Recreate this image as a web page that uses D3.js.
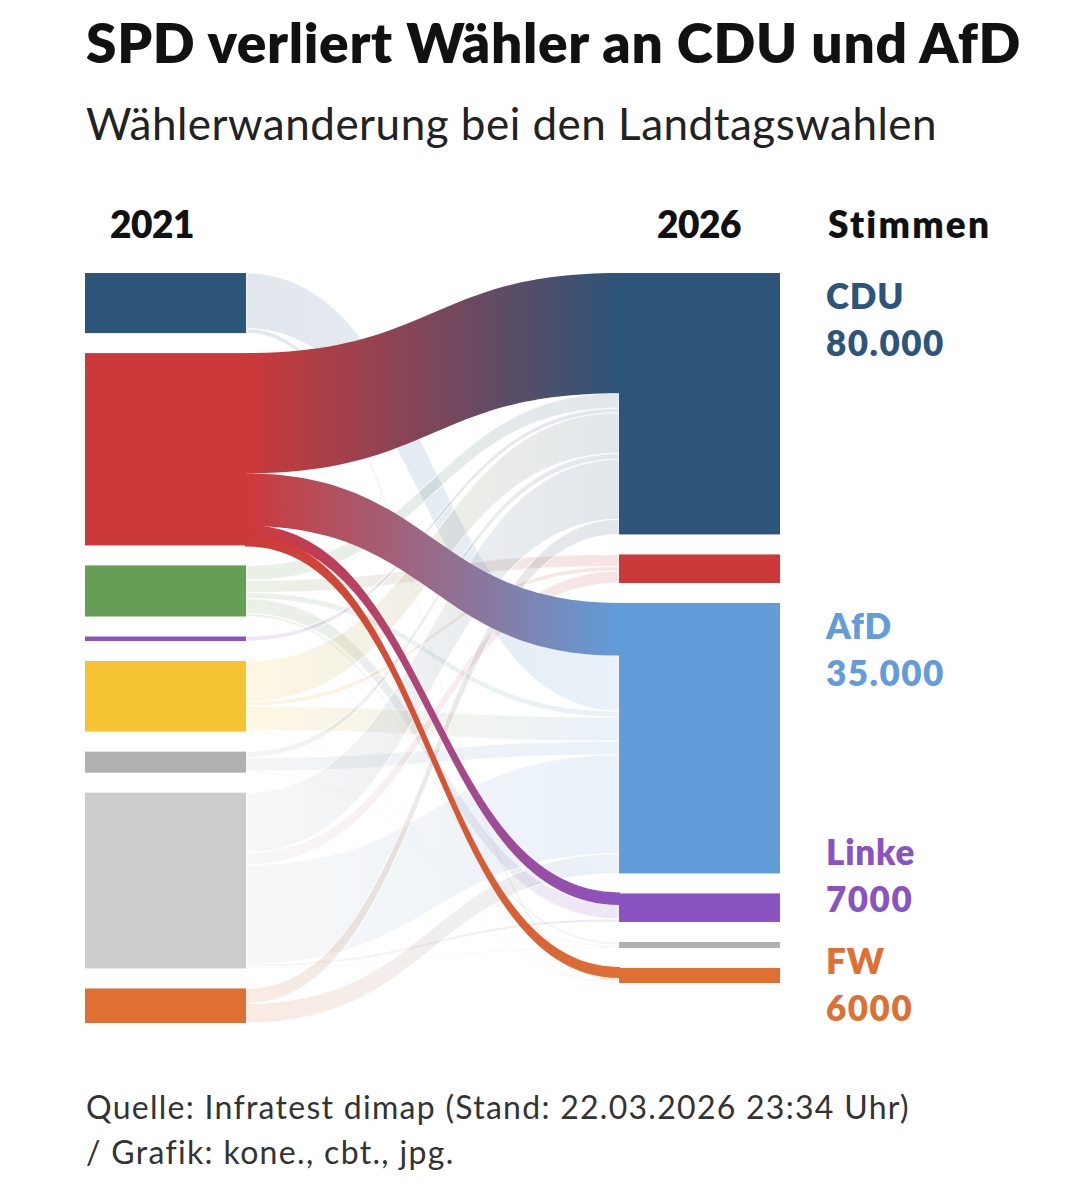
<!DOCTYPE html>
<html lang="de">
<head>
<meta charset="UTF-8">
<title>SPD verliert Wähler an CDU und AfD</title>
<script src="https://d3js.org/d3.v7.min.js"></script>
<style>
  body { margin: 0; background: #fff; }
  svg { display: block; font-family: Lato, "Noto Sans", sans-serif; }
</style>
</head>
<body>
<svg id="chart" width="1092" height="1200"></svg>
<script>
// Parteien 2021 (links) und 2026 (rechts)
const sources = ["CDU", "SPD", "Grüne", "Linke", "FDP", "Sonstige", "Nichtwähler", "FW"];
const targets = ["CDU", "SPD", "AfD", "Linke", "Sonstige", "FW"];

const colors = {
    "CDU": "#2d5479", "SPD": "#cc393a", "Grüne": "#679e55", "Linke": "#8a53c1",
    "FDP": "#f5c334", "Sonstige": "#b1b1b1", "Nichtwähler": "#cccccc",
    "FW": "#de7034", "AfD": "#629cd9"
};

// Wanderungen in Tausend Stimmen (aus der Grafik geschätzt)
const flows = [
    ["SPD", "CDU", 80], ["SPD", "AfD", 35], ["SPD", "Linke", 7], ["SPD", "FW", 6],
    ["CDU", "AfD", 37], ["CDU", "FW", 3],
    ["Grüne", "CDU", 10], ["Grüne", "SPD", 8], ["Grüne", "AfD", 4], ["Grüne", "Linke", 10], ["Grüne", "Sonstige", 2],
    ["Linke", "CDU", 3],
    ["FDP", "CDU", 27], ["FDP", "SPD", 3], ["FDP", "AfD", 16], ["FDP", "FW", 1],
    ["Sonstige", "CDU", 4], ["Sonstige", "AfD", 9], ["Sonstige", "Sonstige", 1],
    ["Nichtwähler", "CDU", 40], ["Nichtwähler", "SPD", 8], ["Nichtwähler", "AfD", 66],
    ["Nichtwähler", "Linke", 2], ["Nichtwähler", "Sonstige", 1],
    ["FW", "CDU", 10], ["FW", "AfD", 13]
];

// SPD-Verluste, rechts beschriftet
const labelParties = ["CDU", "AfD", "Linke", "FW"];
const labelValues = [80000, 35000, 7000, 6000];

const svg = d3.select("#chart");
const chartTop = 273, gap = 20, nodeW = 161;
const leftX = 85, rightX = 619;
const focus = "SPD";

const links = flows.map(([s, t, v]) => ({ source: s, target: t, value: v }));

const leftNodes = sources.map((name, i) => ({ name, i, side: "L",
    value: d3.sum(links.filter(l => l.source === name), l => l.value) }));
const rightNodes = targets.map((name, i) => ({ name, i, side: "R",
    value: d3.sum(links.filter(l => l.target === name), l => l.value) }));

const total = d3.sum(rightNodes, d => d.value);
const y = d3.scaleLinear().domain([0, total]).range([0, 710 - gap * (rightNodes.length - 1)]);

function stack(nodes) {
    let pos = chartTop;
    nodes.forEach(n => { n.y0 = pos; n.y1 = pos + y(n.value); pos = n.y1 + gap; });
}
stack(leftNodes);
stack(rightNodes);

const R = new Map(rightNodes.map(n => [n.name, n]));

// Position der Bänder an den Knoten
leftNodes.forEach(n => {
    let p = n.y0;
    links.filter(l => l.source === n.name)
        .sort((a, b) => targets.indexOf(a.target) - targets.indexOf(b.target))
        .forEach(l => { l.sy0 = p; p += y(l.value); l.sy1 = p; });
});
rightNodes.forEach(n => {
    let p = n.y0;
    const key = l => l.source === focus ? -1 : sources.indexOf(l.source);
    links.filter(l => l.target === n.name)
        .sort((a, b) => key(a) - key(b))
        .forEach(l => { l.ty0 = p; p += y(l.value); l.ty1 = p; });
});

const x0 = leftX + nodeW, x1 = rightX, xm = (x0 + x1) / 2;
function band(l) {
    const p = d3.path();
    p.moveTo(x0, l.sy0);
    p.bezierCurveTo(xm, l.sy0, xm, l.ty0, x1, l.ty0);
    p.lineTo(x1, l.ty1);
    p.bezierCurveTo(xm, l.ty1, xm, l.sy1, x0, l.sy1);
    p.closePath();
    return p.toString();
}

// Verläufe
const defs = svg.append("defs");
links.forEach((l, i) => {
    l.id = "grad" + i;
    const g = defs.append("linearGradient")
        .attr("id", l.id)
        .attr("gradientUnits", "userSpaceOnUse")
        .attr("x1", x0).attr("x2", x1).attr("y1", 0).attr("y2", 0);
    g.append("stop").attr("offset", "0%").attr("stop-color", colors[l.source]);
    g.append("stop").attr("offset", "100%").attr("stop-color", colors[l.target]);
});

const faint = links.filter(l => l.source !== focus);
const strong = links.filter(l => l.source === focus);

svg.append("g")
    .selectAll("path")
    .data(faint)
    .join("path")
    .attr("d", band)
    .attr("fill", l => `url(#${l.id})`)
    .attr("fill-opacity", 0.14)
    .attr("stroke", "#fff")
    .attr("stroke-opacity", 0.7)
    .attr("stroke-width", 1.2);

// thin SPD bands get a small extra stroke so the steep part keeps its weight
svg.append("g")
    .selectAll("path")
    .data(strong)
    .join("path")
    .attr("d", band)
    .attr("fill", l => `url(#${l.id})`)
    .attr("stroke", l => l.value < 20 ? `url(#${l.id})` : "none")
    .attr("stroke-width", 2);

// Knoten
svg.append("g")
    .selectAll("rect")
    .data(leftNodes.concat(rightNodes))
    .join("rect")
    .attr("x", d => d.side === "L" ? leftX : rightX)
    .attr("y", d => d.y0)
    .attr("width", nodeW)
    .attr("height", d => Math.max(1, d.y1 - d.y0))
    .attr("fill", d => colors[d.name]);

// Texte, Breite an die Vorlage angepasst
function fit(sel, w) {
    const len = sel.node().getComputedTextLength();
    const n = sel.text().length;
    sel.attr("letter-spacing", ((w - len) / n).toFixed(2));
    return sel;
}
function text(x, yy, str, size, weight, color) {
    return svg.append("text")
        .attr("x", x).attr("y", yy)
        .attr("font-size", size)
        .attr("font-weight", weight)
        .attr("fill", color)
        .text(str);
}

fit(text(86, 63, "SPD verliert Wähler an CDU und AfD", 55, 800, "#111"), 935);
fit(text(86, 140, "Wählerwanderung bei den Landtagswahlen", 44, 400, "#222"), 851);

fit(text(110, 238, "2021", 37, 800, "#111"), 84);
fit(text(657, 238, "2026", 37, 800, "#111"), 84);
fit(text(828, 238, "Stimmen", 37, 800, "#111"), 164);

// Beschriftung rechts, Überlappungen von unten nach oben auflösen
const fmt = v => v >= 10000 ? d3.format(",")(v).replace(/,/g, ".") : String(v);
const lineH = 47, blockH = 109, bottom = 1021;
const blocks = labelParties.map((p, i) => ({ p, v: labelValues[i], b: R.get(p).y0 + 36 }));
for (let i = blocks.length - 1; i >= 0; i--) {
    const limit = i === blocks.length - 1 ? bottom - lineH : blocks[i + 1].b - blockH;
    blocks[i].b = Math.min(blocks[i].b, limit);
}
blocks.forEach(d => {
    text(826, d.b, d.p, 35, 800, colors[d.p]).attr("letter-spacing", 0.8);
    text(826, d.b + lineH, fmt(d.v), 35, 800, colors[d.p]).attr("letter-spacing", 1.5);
});

fit(text(86, 1119, "Quelle: Infratest dimap (Stand: 22.03.2026 23:34 Uhr)", 32, 400, "#333"), 824);
fit(text(86, 1164, "/ Grafik: kone., cbt., jpg.", 32, 400, "#333"), 368);
</script>
</body>
</html>
